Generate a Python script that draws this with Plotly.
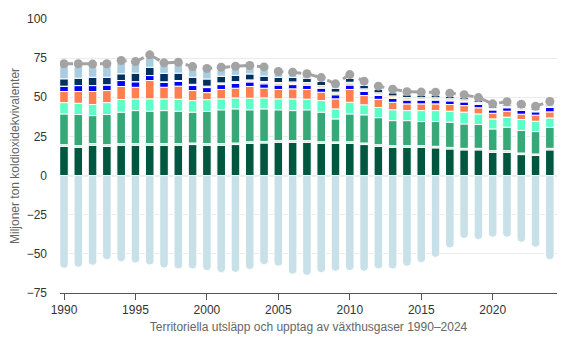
import plotly.graph_objects as go

years = list(range(1990, 2025))

# stacked positive segments (Mt CO2e), bottom to top
s_darkgreen = [18.7, 18.1, 19.4, 18.7, 19.4, 19.4, 19.4, 19.4, 19.4, 19.8,
               19.4, 19.4, 19.8, 20.6, 20.8, 21.3, 21.3, 21.3, 20.6, 20.6,
               20.6, 19.8, 18.7, 18.1, 18.1, 18.1, 17.7, 17.0, 16.4, 16.4,
               14.9, 14.9, 13.4, 12.8, 16.4]
s_palegreen = [1.0, 1.0, 1.0, 1.0, 1.0, 1.0, 1.0, 1.0, 1.0, 1.0,
               1.0, 1.0, 1.0, 1.0, 1.0, 1.0, 1.0, 1.0, 1.0, 0.9,
               1.0, 1.0, 1.0, 1.0, 1.0, 1.0, 1.0, 1.0, 1.0, 1.0,
               1.0, 1.0, 1.0, 1.0, 1.0]
s_midgreen = [19.7, 19.9, 17.9, 19.3, 20.1, 21.1, 20.7, 21.1, 20.7, 19.7,
              20.6, 21.6, 21.8, 20.4, 20.8, 19.7, 19.2, 19.7, 18.9, 14.7,
              17.8, 18.0, 17.3, 16.0, 16.0, 15.4, 15.8, 16.1, 15.6, 15.2,
              13.9, 15.0, 14.4, 14.3, 13.4]
s_aqua = [7.2, 7.2, 7.1, 7.6, 8.1, 7.5, 7.9, 7.5, 7.7, 7.4,
          7.5, 7.0, 7.0, 7.4, 7.0, 7.0, 7.5, 6.8, 7.4, 6.4,
          7.4, 6.4, 6.5, 6.9, 6.4, 7.0, 7.0, 7.0, 7.5, 6.8,
          6.4, 6.4, 7.0, 6.6, 6.0]
s_coral = [7.1, 7.5, 8.3, 7.7, 8.3, 7.4, 11.7, 7.4, 8.3, 6.4,
           4.5, 6.0, 6.2, 7.5, 6.2, 6.0, 6.4, 6.2, 5.3, 6.4,
           8.2, 5.9, 5.2, 4.8, 4.3, 4.3, 4.3, 4.3, 4.2, 3.9,
           3.6, 3.8, 3.4, 3.9, 3.9]
s_blue = [3.4, 3.8, 3.8, 3.7, 3.8, 3.6, 3.2, 3.2, 3.2, 3.2,
          3.2, 3.1, 3.0, 2.9, 2.8, 2.8, 2.7, 2.7, 2.6, 2.6,
          2.8, 2.6, 2.5, 2.5, 2.4, 2.4, 2.4, 2.3, 2.3, 2.2,
          2.1, 2.2, 2.4, 2.1, 2.8]
s_brown = [0.0, 0.0, 0.0, 0.0, 0.0, 0.0, 0.0, 0.0, 0.0, 0.2,
           0.3, 0.4, 0.5, 0.6, 0.8, 0.8, 0.8, 0.8, 0.7, 0.7,
           0.8, 0.7, 0.7, 0.6, 0.6, 0.5, 0.5, 0.5, 0.5, 0.4,
           0.4, 0.4, 0.4, 0.3, 0.3]
s_tan = [0.0, 0.0, 0.0, 0.0, 0.0, 0.0, 0.0, 0.3, 0.4, 0.6,
         0.6, 0.7, 0.7, 0.7, 0.7, 0.8, 0.9, 0.9, 1.0, 1.0,
         1.0, 1.0, 1.0, 1.0, 1.0, 1.0, 1.0, 0.9, 0.9, 0.9,
         0.8, 0.8, 0.8, 0.8, 0.8]
s_navy = [4.7, 4.7, 5.3, 4.8, 4.3, 5.4, 5.3, 5.4, 4.7, 4.5,
          4.6, 4.2, 4.0, 3.8, 3.4, 3.3, 3.0, 2.8, 2.6, 2.5,
          2.4, 2.3, 2.1, 2.0, 1.8, 1.7, 1.6, 1.5, 1.4, 1.3,
          1.2, 1.1, 1.1, 1.0, 1.0]
s_lightblue = [9.6, 9.2, 8.4, 8.6, 8.5, 7.4, 7.9, 6.7, 7.0, 6.8,
               6.7, 5.8, 5.8, 5.4, 5.9, 3.8, 3.2, 2.8, 2.5, 2.8,
               2.5, 2.6, 2.1, 2.3, 2.0, 1.9, 1.9, 2.0, 1.8, 1.7,
               1.5, 1.6, 1.7, 1.5, 1.7]
# net uptake (negative)
s_uptake = [-59.2, -58.6, -57.3, -53.7, -55.0, -55.8, -57.1, -59.0, -59.6, -59.6,
            -60.7, -62.0, -61.8, -60.0, -56.9, -57.9, -63.0, -63.7, -62.0, -61.1,
            -60.7, -61.1, -59.6, -59.6, -57.9, -55.6, -52.2, -46.2, -40.1, -40.9,
            -39.4, -39.4, -42.6, -45.8, -53.7]
# total emissions (line)
totals = [71.4, 71.4, 71.2, 71.4, 73.5, 72.8, 77.1, 72.0, 72.4, 69.6,
          68.4, 69.2, 69.8, 70.3, 69.4, 66.5, 66.0, 65.0, 62.6, 58.6,
          64.5, 60.3, 57.1, 55.2, 53.6, 53.3, 53.2, 52.6, 51.6, 49.8,
          45.8, 47.2, 45.6, 44.3, 47.3]

y_ticks = [-75, -50, -25, 0, 25, 50, 75, 100]
x_ticks = [1990, 1995, 2000, 2005, 2010, 2015, 2020]

series = [
    ("Segment 1", s_darkgreen, "#00573F"),
    ("Segment 2", s_palegreen, "#b4dcc4"),
    ("Segment 3", s_midgreen, "#37a877"),
    ("Segment 4", s_aqua, "#5CFFC8"),
    ("Segment 5", s_coral, "#FF7F50"),
    ("Segment 6", s_blue, "#0000FF"),
    ("Segment 7", s_brown, "#9c7416"),
    ("Segment 8", s_tan, "#d9b98a"),
    ("Segment 9", s_navy, "#00305f"),
    ("Segment 10", s_lightblue, "#a8cde0"),
]

fig = go.Figure()
for name, vals, col in series:
    fig.add_trace(go.Bar(x=years, y=vals, name=name, marker_color=col,
                         marker_line=dict(color="white", width=1)))
fig.add_trace(go.Bar(x=years, y=s_uptake, name="Upptag", marker_color="#c8e0e8",
                     marker_line=dict(color="white", width=1)))
fig.add_trace(go.Scatter(x=years, y=totals, mode="lines+markers", name="Totalt",
                         line=dict(color="#a3a3a3", width=3, dash="dash"),
                         marker=dict(color="#a3a3a3", size=9)))

fig.update_layout(
    width=572, height=354,
    margin=dict(l=60, r=15, t=19, b=61),
    barmode="relative", bargap=0.4, barcornerradius=4,
    showlegend=False,
    plot_bgcolor="white", paper_bgcolor="white",
    font=dict(family="Liberation Sans, Arial, sans-serif", size=12, color="#333"),
)
fig.update_xaxes(range=[1989.72, 2024.5], tickvals=x_ticks, ticks="outside",
                 ticklen=6, tickcolor="#555", showline=True, linecolor="#555",
                 linewidth=1, showgrid=False,
                 tickfont=dict(size=12, color="#333"),
                 title=dict(text="Territoriella utsläpp och upptag av växthusgaser 1990–2024",
                            font=dict(size=12, color="#666"), standoff=6))
fig.update_yaxes(range=[-75, 100], tickvals=y_ticks, showgrid=True,
                 gridcolor="#ebebeb", zeroline=True, zerolinecolor="#ebebeb",
                 ticklabelstandoff=12,
                 tickfont=dict(size=12, color="#333"),
                 title=dict(text="Miljoner ton koldioxidekvivalenter",
                            font=dict(size=12, color="#666"), standoff=4))

fig.write_html("out.html")
